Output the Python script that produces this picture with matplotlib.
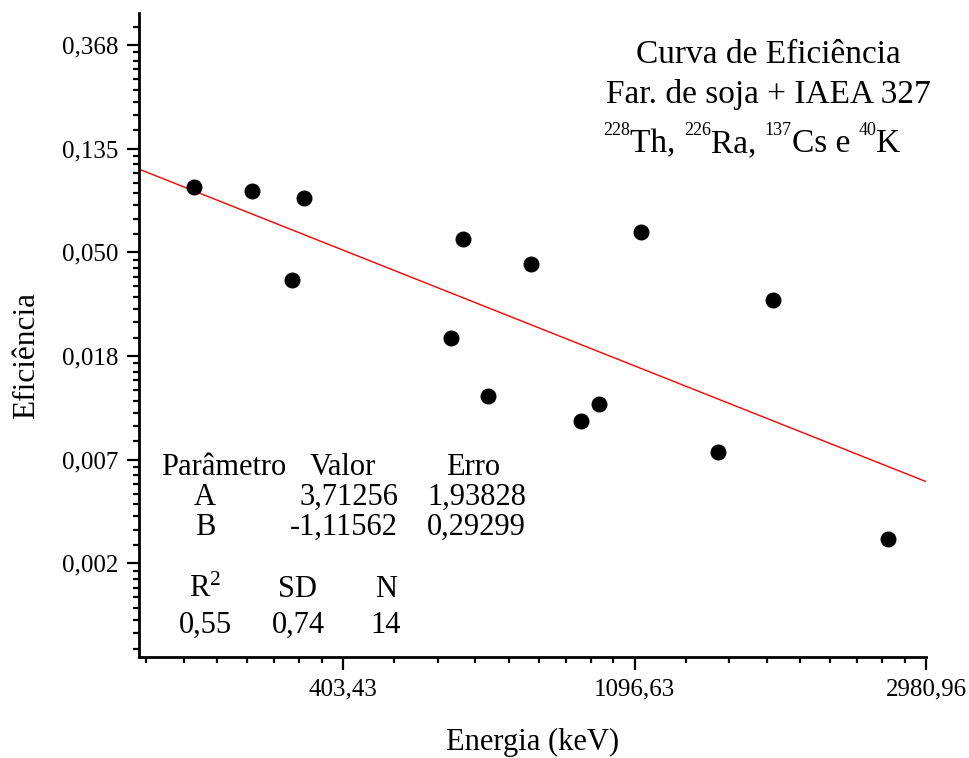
import numpy as np
import matplotlib
matplotlib.use("Agg")
import matplotlib.pyplot as plt
from matplotlib.ticker import FixedLocator, FixedFormatter, NullFormatter

plt.rcParams['font.family'] = ['Liberation Serif', 'DejaVu Serif']
plt.rcParams['mathtext.fontset'] = 'custom'
plt.rcParams['mathtext.rm'] = 'Liberation Serif'
plt.rcParams['mathtext.it'] = 'Liberation Serif:italic'

# gamma energies (keV) and measured efficiencies
energia = [241.9, 295.2, 351.9, 338.3, 609.3, 583.2, 661.7, 768.4,
           911.2, 969.0, 1120.3, 1460.8, 1764.5, 2614.5]
eficiencia = [0.0932, 0.0900, 0.0838, 0.0381, 0.0566, 0.0217, 0.01249, 0.0443,
              0.00981, 0.01149, 0.0604, 0.00728, 0.0314, 0.00313]

# linear fit ln(eff) = A + B ln(E)
A = 3.71256
B = -1.11562

x_labels = ['403,43', '1096,63', '2980,96']
y_labels = ['0,002', '0,007', '0,018', '0,050', '0,135', '0,368']

tabela = [['Parâmetro', 'Valor', 'Erro'],
          ['A', '3,71256', '1,93828'],
          ['B', '-1,11562', '0,29299']]
stats_head = ['R$^2$', 'SD', 'N']
stats_vals = ['0,55', '0,74', '14']

# nuclides line: (mass number, text after it)
nuclidos = [('228', 'Th, '), ('226', 'Ra, '), ('137', 'Cs e '), ('40', 'K')]

xmin, xmax = 200, np.e ** 8
ymin, ymax = 0.001, 0.5

fig = plt.figure(figsize=(9.7, 7.58), dpi=100)
ax = fig.add_axes([0.1432, 0.1327, 0.8115, 0.8501])

ax.set_xscale('log', base=np.e)
ax.set_yscale('log', base=np.e)

ax.plot(energia, eficiencia, 'o', color='black', markersize=10.5, zorder=3)

xf = np.array([xmin, xmax])
ax.plot(xf, np.exp(A + B * np.log(xf)), color='red', lw=1.0, zorder=2)

ax.set_xlim(xmin, xmax)
ax.set_ylim(ymin, ymax)

# major ticks at powers of e, minor ticks linear inside each interval
def minor_ticks(lo_exp, hi_exp):
    out = []
    for k in range(lo_exp, hi_exp):
        out += list(np.linspace(np.e ** k, np.e ** (k + 1), 10)[1:-1])
    return out

ax.xaxis.set_major_locator(FixedLocator([np.e ** 6, np.e ** 7, np.e ** 8]))
ax.xaxis.set_major_formatter(FixedFormatter(x_labels))
ax.xaxis.set_minor_locator(FixedLocator(minor_ticks(5, 8)))
ax.xaxis.set_minor_formatter(NullFormatter())

ax.yaxis.set_major_locator(FixedLocator([np.e ** k for k in range(-6, 0)]))
ax.yaxis.set_major_formatter(FixedFormatter(y_labels))
ax.yaxis.set_minor_locator(FixedLocator(minor_ticks(-7, 0)))
ax.yaxis.set_minor_formatter(NullFormatter())

for s in ['top', 'right']:
    ax.spines[s].set_visible(False)
for s in ['left', 'bottom']:
    ax.spines[s].set_linewidth(2.0)

ax.tick_params(which='major', direction='out', length=9, width=1.6, labelsize=18, pad=6)
ax.tick_params(which='minor', direction='out', length=4.5, width=1.6)

fig.text(27 / 970, 1 - 356 / 758, 'Eficiência', rotation=90, fontsize=22.5,
         ha='center', va='center')
fig.text(533 / 970, 1 - 742 / 758, 'Energia (keV)', fontsize=22,
         ha='center', va='center')

# title block
fs_t = 24
fs_sup = 13
fig.text(768 / 970, 1 - 63 / 758, 'Curva de Eficiência', fontsize=fs_t, ha='center', va='baseline')
fig.text(768 / 970, 1 - 103 / 758, 'Far. de soja + IAEA 327', fontsize=fs_t, ha='center', va='baseline')

# third line built piece by piece so the mass numbers stay small
renderer = fig.canvas.get_renderer()
pieces = []
total = 0.0
for massa, resto in nuclidos:
    for txt, size, raise_px in [(massa, fs_sup, 17), (resto, fs_t, 0)]:
        t = fig.text(0, 0, txt, fontsize=size, ha='left', va='baseline')
        w = t.get_window_extent(renderer).width
        pieces.append((t, w, raise_px))
        total += w
x0 = 752 - total / 2
for t, w, raise_px in pieces:
    t.set_position((x0 / 970, 1 - (152 - raise_px) / 758))
    x0 += w

# fit parameter table
fs = 22
row_y = [475, 505, 535]
for r, row in enumerate(tabela):
    if r == 0:
        for cx, txt in zip([224, 343, 473], row):
            fig.text(cx / 970, 1 - row_y[r] / 758, txt, fontsize=fs,
                     ha='center', va='baseline')
    else:
        fig.text(205 / 970, 1 - row_y[r] / 758, row[0], fontsize=fs,
                 ha='center', va='baseline')
        fig.text(398 / 970, 1 - row_y[r] / 758, row[1], fontsize=fs,
                 ha='right', va='baseline')
        fig.text(427 / 970, 1 - row_y[r] / 758, row[2], fontsize=fs,
                 ha='left', va='baseline')

stat_x = [205, 298, 386]
for i in range(3):
    fig.text(stat_x[i] / 970, 1 - 597 / 758, stats_head[i], fontsize=fs,
             ha='center', va='baseline')
    fig.text(stat_x[i] / 970, 1 - 633 / 758, stats_vals[i], fontsize=fs,
             ha='center', va='baseline')

fig.savefig('out.png', dpi=100)
